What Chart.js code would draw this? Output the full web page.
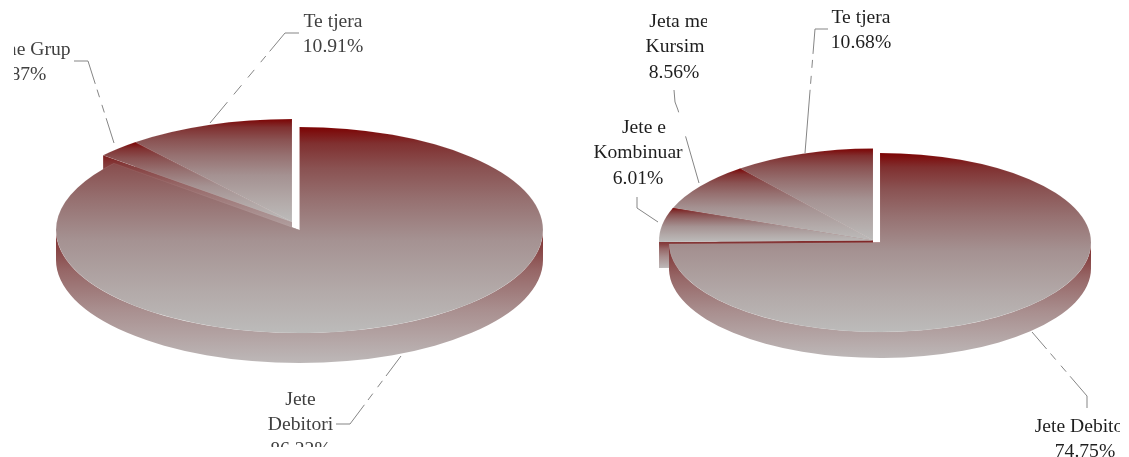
<!DOCTYPE html>
<html>
<head>
<meta charset="utf-8">
<style>
html,body{margin:0;padding:0;background:#fff;overflow:hidden}
canvas{position:absolute;top:0;display:block}
</style>
<script src="https://cdn.jsdelivr.net/npm/chart.js@4"></script>
</head>
<body>
<canvas id="left" width="552" height="447" style="left:14px;width:552px;height:447px"></canvas>
<canvas id="right" width="554" height="457" style="left:566px;width:554px;height:457px"></canvas>
<script>
const leftCategories = ["Jete Debitori", "Jete ne Grup", "Te tjera"];
const leftValues = [86.22, 2.87, 10.91];
const rightCategories = ["Jete Debitori", "Jete e Kombinuar", "Jeta me Kursim", "Te tjera"];
const rightValues = [74.75, 6.01, 8.56, 10.68];

const topStops = [[0,'#7c0303'],[0.08,'#803030'],[0.2,'#8a5252'],[0.35,'#967070'],[0.55,'#a59292'],[0.8,'#b3aaa9'],[1,'#bcbbba']];
const wallStops = [[0,'#7e1c1c'],[0.1,'#843c3c'],[0.3,'#966666'],[0.6,'#a98f8f'],[1,'#bdb8b8']];
const dashed = [38, 6, 8, 8, 8, 6, 100];

const leftLayout = {
  originX: 14, color: '#404040',
  main: {cx: 299.5, cy: 230, rx: 243.5, ry: 103, depth: 30},
  group: {cx: 292, cy: 222, rx: 248, ry: 103, depth: 30},
  labels: [
    {lines: ["Te tjera", "10.91%"], x: 333, y: 27, dy: 25},
    {lines: ["Jete ne Grup", "2.87%"], x: 21, y: 55, dy: 25},
    {lines: ["Jete", "Debitori", "86.22%"], x: 300.5, y: 405, dy: 25}
  ],
  leaders: [
    {pts: [[299,33],[285,33],[210,123]], dash: [38,6,8,10,10,10,12,10,100]},
    {pts: [[74,61],[88,61],[114,143]], dash: dashed},
    {pts: [[336,424],[350,424],[401,356]], dash: dashed}
  ]
};
const rightLayout = {
  originX: 566, color: '#1e1e1e',
  main: {cx: 880, cy: 242.5, rx: 211, ry: 89.5, depth: 26},
  group: {cx: 873, cy: 240.5, rx: 214, ry: 92, depth: 26},
  labels: [
    {lines: ["Te tjera", "10.68%"], x: 861, y: 23, dy: 25},
    {lines: ["Jeta me"], x: 679, y: 27, dy: 25, clipRight: 707},
    {lines: ["Kursim"], x: 675, y: 52, dy: 25},
    {lines: ["8.56%"], x: 674, y: 78, dy: 25},
    {lines: ["Jete e"], x: 644, y: 133, dy: 25},
    {lines: ["Kombinuar", "6.01%"], x: 638, y: 158, dy: 26},
    {lines: ["Jete Debitori", "74.75%"], x: 1085, y: 432, dy: 25}
  ],
  leaders: [
    {pts: [[828,29],[815,29],[805,153]], dash: dashed},
    {pts: [[674,90],[675,102],[678,110],[699,183]], dash: [23,25,100]},
    {pts: [[637,197],[637,208],[658,222]], dash: []},
    {pts: [[1087,408],[1087,396],[1032,332]], dash: dashed}
  ]
};

function sliceAngles(values, i) {
  const sum = values.reduce((a, b) => a + b, 0);
  let a = -Math.PI / 2;
  for (let k = 0; k < i; k++) a += values[k] / sum * Math.PI * 2;
  return [a, a + values[i] / sum * Math.PI * 2];
}
function rimExtent(a0, a1) {
  let lo = Math.min(Math.sin(a0), Math.sin(a1));
  let hi = Math.max(Math.sin(a0), Math.sin(a1));
  for (let k = -4; k <= 4; k++) {
    const t = Math.PI / 2 + k * Math.PI;
    if (t >= a0 && t <= a1) { lo = Math.min(lo, Math.sin(t)); hi = Math.max(hi, Math.sin(t)); }
  }
  return [lo, hi];
}
function addStops(g, stops) { stops.forEach(s => g.addColorStop(s[0], s[1])); return g; }

function sliceFill(c) {
  const chart = c.chart, area = chart.chartArea;
  const R = chart.getDatasetMeta(0).controller && chart.getDatasetMeta(0).controller.outerRadius;
  if (c.dataIndex === undefined || !area || !R) return '#999';
  const ay = (area.top + area.bottom) / 2;
  const [a0, a1] = sliceAngles(chart.data.datasets[0].data, c.dataIndex);
  const [lo, hi] = rimExtent(a0, a1);
  return addStops(chart.ctx.createLinearGradient(0, ay + Math.min(0, lo) * R, 0, ay + Math.max(0, hi) * R), topStops);
}

function drawWall(ctx, G, a0, a1) {
  [a1, a0].forEach(a => {
    const x = G.cx + Math.cos(a) * G.rx, y = G.cy + Math.sin(a) * G.ry;
    const t = Math.min(y, G.cy), b = Math.max(y, G.cy) + G.depth;
    ctx.fillStyle = addStops(ctx.createLinearGradient(0, t, 0, b), wallStops);
    ctx.beginPath();
    ctx.moveTo(G.cx, G.cy);
    ctx.lineTo(x, y);
    ctx.lineTo(x, y + G.depth);
    ctx.lineTo(G.cx, G.cy + G.depth);
    ctx.closePath();
    ctx.fill();
  });
  const s = Math.max(a0, 0), e = Math.min(a1, Math.PI);
  if (e > s) {
    const rimLow = G.cy + rimExtent(s, e)[1] * G.ry;
    const start = Math.min(G.cy, rimLow);
    ctx.fillStyle = addStops(ctx.createLinearGradient(0, start, 0, rimLow + G.depth), wallStops);
    ctx.beginPath();
    ctx.ellipse(G.cx, G.cy, G.rx, G.ry, 0, s, e, false);
    ctx.ellipse(G.cx, G.cy + G.depth, G.rx, G.ry, 0, e, s, true);
    ctx.closePath();
    ctx.fill();
  }
}

const pie3d = {
  id: 'pie3d',
  beforeDatasetsDraw(chart, args, opts) {
    const L = opts.layout, ctx = chart.ctx, meta = chart.getDatasetMeta(0);
    const R = meta.controller.outerRadius, n = meta.data.length;
    ctx.save();
    ctx.translate(-L.originX, 0);
    for (let i = n - 1; i >= 0; i--) {
      const G = i === 0 ? L.main : L.group, arc = meta.data[i];
      const [a0, a1] = sliceAngles(chart.data.datasets[0].data, i);
      drawWall(ctx, G, a0, a1);
      ctx.save();
      ctx.translate(G.cx, G.cy);
      ctx.scale(G.rx / R, G.ry / R);
      ctx.translate(-arc.x, -arc.y);
      arc.draw(ctx);
      ctx.restore();
    }
    ctx.strokeStyle = '#858585';
    ctx.lineWidth = 1;
    L.leaders.forEach(l => {
      ctx.setLineDash(l.dash);
      ctx.beginPath();
      l.pts.forEach((p, k) => k ? ctx.lineTo(p[0], p[1]) : ctx.moveTo(p[0], p[1]));
      ctx.stroke();
    });
    ctx.setLineDash([]);
    ctx.font = '19.6px "Liberation Serif"';
    ctx.fillStyle = L.color;
    ctx.textAlign = 'center';
    ctx.textBaseline = 'alphabetic';
    L.labels.forEach(l => {
      ctx.save();
      if (l.clipRight) { ctx.beginPath(); ctx.rect(0, 0, l.clipRight, 457); ctx.clip(); }
      l.lines.forEach((t, k) => ctx.fillText(t, l.x, l.y + k * l.dy));
      ctx.restore();
    });
    ctx.restore();
    return false;
  }
};

function makePie(id, categories, values, layout) {
  return new Chart(document.getElementById(id), {
    type: 'pie',
    data: {labels: categories, datasets: [{data: values, backgroundColor: sliceFill, borderWidth: 1, borderColor: 'rgba(255,255,255,0.1)'}]},
    options: {
      responsive: false,
      animation: false,
      events: [],
      plugins: {legend: {display: false}, tooltip: {enabled: false}, pie3d: {layout}}
    },
    plugins: [pie3d]
  });
}
makePie('left', leftCategories, leftValues, leftLayout);
makePie('right', rightCategories, rightValues, rightLayout);
</script>
</body>
</html>
